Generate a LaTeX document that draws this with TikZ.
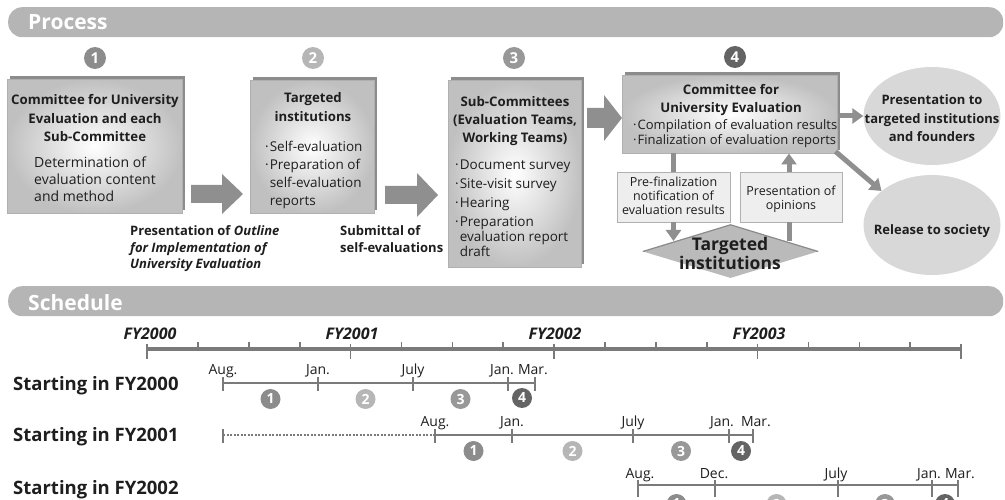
\documentclass[tikz,border=0pt]{standalone}
\usepackage{fontspec}
\setmainfont{Open Sans}
\usetikzlibrary{arrows.meta,shapes.geometric,shadows}
\definecolor{barg}{HTML}{B5B5B5}
\definecolor{arrg}{HTML}{8F8F8F}
\definecolor{shadg}{HTML}{8C8C8C}
\definecolor{boxout}{HTML}{C0C0C0}
\definecolor{boxedge}{HTML}{B0B0B0}
\definecolor{ellg}{HTML}{D8D8D8}
\definecolor{smallg}{HTML}{EEEEEE}
\definecolor{smalledge}{HTML}{B0B0B0}
\definecolor{diamg}{HTML}{BABABA}
\definecolor{diamedge}{HTML}{8A8A8A}
\definecolor{axisg}{HTML}{7A7A7A}
\definecolor{cone}{HTML}{8C8C8C}
\definecolor{ctwo}{HTML}{B6B6B6}
\definecolor{cthree}{HTML}{989898}
\definecolor{cfour}{HTML}{646464}
\definecolor{txt}{HTML}{1E1E1E}
\newcommand{\fsz}[2]{\fontsize{#1}{#2}\selectfont}
\newcommand{\tbl}[2]{\begin{tabular}[t]{@{}#1@{}}#2\end{tabular}}
\newcommand{\bl}{·\kern1pt}
\newcommand{\bh}{\hphantom{\bl}}
\newcommand{\blk}[5]{\fill[arrg] (#1) ++(0,-#5) -- ++(#2,0) -- ++(0,#5-#4) -- ++(#3,#4) -- ++(-#3,#4) -- ++(0,#5-#4) -- ++(-#2,0) -- cycle;}
\begin{document}
\begin{tikzpicture}[x=1pt,y=-1pt, every node/.style={text=txt},
 hdr/.style={fill=barg, rounded corners=14pt, anchor=north west, inner sep=0, minimum width=995pt, minimum height=30pt},
 hdrtxt/.style={anchor=base west, inner sep=0, text=white, font=\fsz{21}{24}\bfseries},
 numc/.style={circle, inner sep=0, minimum size=20pt, text=white, font=\fsz{14}{14}\bfseries},
 topnum/.style={numc, minimum size=22pt, font=\fsz{15}{15}\bfseries},
 mbox/.style={rectangle, anchor=north west, inner sep=0, inner color=white, outer color=boxout, draw=boxedge, line width=0.5pt, drop shadow={shadow xshift=3pt, shadow yshift=3pt, opacity=1, fill=shadg}},
 sbox/.style={rectangle, inner sep=0, fill=smallg, draw=smalledge, line width=0.8pt},
 txtb/.style={anchor=base, inner sep=0},
 conn/.style={draw=arrg, line width=5pt},
 conna/.style={conn, -{Triangle[length=11pt,width=15pt]}},
 axisl/.style={draw=axisg, line width=3.5pt},
 rowl/.style={draw=axisg, line width=2pt},
 tk/.style={draw=axisg, line width=1.6pt},
 mon/.style={anchor=base, inner sep=0, font=\fsz{14}{14}},
 fy/.style={anchor=base, inner sep=0, font=\fsz{16}{16}\bfseries\itshape},
 rowlab/.style={anchor=base west, inner sep=0, font=\fsz{18.5}{18}\bfseries}]
\useasboundingbox (0,0) rectangle (1005,500);
% headers
\node[hdr] (hproc) at (8,7) {};
\node[hdrtxt] (tproc) at (28,30) {Process};
\node[hdr] (hsch) at (8,286) {};
\node[hdrtxt] (tsch) at (28,310) {Schedule};
% step numbers
\node[topnum, fill=cone] (n1) at (95,58) {1};
\node[topnum, fill=ctwo] (n2) at (313,58) {2};
\node[topnum, fill=cthree] (n3) at (514,58) {3};
\node[topnum, fill=cfour] (n4) at (735,57) {4};
% box 1
\node[mbox, minimum width=175pt, minimum height=134pt] (b1) at (7,79) {};
\node[txtb, font=\fsz{13.2}{18.5}\bfseries] (b1t) at (95,105) {\tbl{c}{Committee for University\\Evaluation and each\\Sub-Committee}};
\node[txtb, font=\fsz{14}{17}] (b1d) at (95,168) {\tbl{l}{Determination of\\evaluation content\\and method}};
% box 2
\node[mbox, minimum width=124pt, minimum height=133pt] (b2) at (250,80) {};
\node[txtb, font=\fsz{13.2}{19}\bfseries] (b2t) at (313,103) {\tbl{c}{Targeted\\institutions}};
\node[txtb, anchor=base west, font=\fsz{13.5}{17.7}] (b2d) at (265,152) {\tbl{l}{\bl Self-evaluation\\\bl Preparation of\\\bh self-evaluation\\\bh reports}};
% box 3
\node[mbox, minimum width=133pt, minimum height=187pt] (b3) at (448,80) {};
\node[txtb, font=\fsz{13.2}{18}\bfseries] (b3t) at (515,107) {\tbl{c}{Sub-Committees\\(Evaluation Teams,\\Working Teams)}};
\node[txtb, anchor=base west, font=\fsz{13.5}{15}] (b3d) at (455,170) {\tbl{l}{\bl Document survey\\[4pt]\bl Site-visit survey\\[4pt]\bl Hearing\\[4pt]\bl Preparation\\\bh evaluation report\\\bh draft}};
% box 4
\node[mbox, minimum width=215pt, minimum height=78pt] (b4) at (622,75) {};
\node[txtb, font=\fsz{13.2}{18}\bfseries] (b4t) at (731,95) {\tbl{c}{Committee for\\University Evaluation}};
\node[txtb, anchor=base west, font=\fsz{13}{15}] (b4d) at (633,130) {\tbl{l}{\bl Compilation of evaluation results\\\bl Finalization of evaluation reports}};
% block arrows
\coordinate (a1) at (191,194);
\coordinate (a2) at (385,195);
\coordinate (a3) at (587,118);
\blk{a1}{31}{21}{20}{9}
\blk{a2}{32}{21}{22}{9}
\blk{a3}{17}{18}{23}{10}
% labels under arrows
\node[txtb, anchor=base west, font=\fsz{13}{16.5}\bfseries] (l1) at (130,236) {\tbl{l}{Presentation of \textit{Outline}\\\textit{for Implementation of}\\\textit{University Evaluation}}};
\node[txtb, anchor=base west, font=\fsz{13}{16.5}\bfseries] (l2) at (340,236) {\tbl{l}{Submittal of\\self-evaluations}};
% ellipses
\node[ellipse, fill=ellg, minimum width=137pt, minimum height=98pt, inner sep=0] (e1) at (932,116) {};
\node[txtb, font=\fsz{13}{18.5}\bfseries] (e1t) at (932,105) {\tbl{c}{Presentation to\\targeted institutions\\and founders}};
\node[ellipse, fill=ellg, minimum width=137pt, minimum height=100pt, inner sep=0] (e2) at (932,225) {};
\node[txtb, font=\fsz{13}{18.5}\bfseries] (e2t) at (932,235) {Release to society};
% small boxes
\node[sbox, minimum width=113pt, minimum height=50pt] (sA) at (673.5,197) {};
\node[txtb, font=\fsz{12.5}{14}] (sAt) at (673.5,187) {\tbl{c}{Pre-finalization\\notification of\\evaluation results}};
\node[sbox, minimum width=102pt, minimum height=50pt] (sB) at (791,197) {};
\node[txtb, font=\fsz{12.5}{14}] (sBt) at (791,196) {\tbl{c}{Presentation of\\opinions}};
% diamond
\node[diamond, fill=diamg, minimum width=175pt, minimum height=53pt, inner sep=0] (tg) at (730.5,251.5) {};
\draw[diamedge, line width=1.2pt, line join=round] (tg.west) -- (tg.north) -- (tg.east);
\node[txtb, font=\fsz{17.5}{18}\bfseries] (tgt) at (730,251) {\tbl{c}{Targeted\\institutions}};
% connectors
\draw[conna] (b4.east |- e1.west) -- (e1.west);
\draw[conna] ([xshift=-2pt,yshift=2pt]b4.south east) -- (e2.146);
\coordinate (tgA) at (674,241);
\coordinate (tgB) at (789,241);
\draw[conn] (b4.south -| sA.north) -- (sA.north);
\draw[conna] (sA.south) -- (sA.south |- tgA);
\draw[conn] (tgB) -- (sB.south -| tgB);
\draw[conna] (sB.north -| tgB) -- (b4.south -| tgB);
% schedule axis
\coordinate (ax0) at (147,349);
\coordinate (ax4) at (961,349);
\draw[axisl] (ax0) -- (ax4);
\foreach \k in {0,...,4} \draw[tk] ({147+203.5*\k},344) -- ++(0,15);
\foreach \k in {0,...,3} \foreach \q in {1,2,3} \draw[tk] ({147+203.5*\k+50.9*\q},342) -- ++(0,7);
\node[fy] (fy0) at (150,339) {FY2000};
\node[fy] (fy1) at (352,339) {FY2001};
\node[fy] (fy2) at (555,339) {FY2002};
\node[fy] (fy3) at (759,339) {FY2003};
% row 1
\node[rowlab] (rl1) at (13,390) {Starting in FY2000};
\coordinate (p1a) at (223,383);
\coordinate (p1e) at (535,383);
\draw[rowl] (p1a) -- (p1e);
\foreach \x in {223,318,413,508,535} \draw[tk] (\x,377) -- ++(0,14);
\node[mon] (m11) at (223,374) {Aug.};
\node[mon] (m12) at (318,374) {Jan.};
\node[mon] (m13) at (413,374) {July};
\node[mon] (m14) at (502,374) {Jan.};
\node[mon] (m15) at (533,374) {Mar.};
\node[numc, fill=cone] (c11) at (270.5,399) {1};
\node[numc, fill=ctwo] (c12) at (365.5,399) {2};
\node[numc, fill=cthree] (c13) at (460.5,399) {3};
\node[numc, fill=cfour] (c14) at (522,398) {4};
% row 2
\node[rowlab] (rl2) at (13,441) {Starting in FY2001};
\coordinate (p2s) at (223,435);
\coordinate (p2a) at (435,435);
\coordinate (p2e) at (753,435);
\draw[axisg, line width=1.2pt, dash pattern=on 2pt off 1.5pt] (p2s) -- (p2a);
\draw[tk] (223,429) -- ++(0,14);
\draw[rowl] (p2a) -- (p2e);
\foreach \x in {435,512,633,729,753} \draw[tk] (\x,429) -- ++(0,14);
\node[mon] (m21) at (435,426) {Aug.};
\node[mon] (m22) at (512,426) {Jan.};
\node[mon] (m23) at (633,426) {July};
\node[mon] (m24) at (722,426) {Jan.};
\node[mon] (m25) at (756,426) {Mar.};
\node[numc, fill=cone] (c21) at (473.5,451) {1};
\node[numc, fill=ctwo] (c22) at (572.5,451) {2};
\node[numc, fill=cthree] (c23) at (681,451) {3};
\node[numc, fill=cfour] (c24) at (741,451) {4};
% row 3
\node[rowlab] (rl3) at (13,494) {Starting in FY2002};
\coordinate (p3a) at (638,485);
\coordinate (p3e) at (958,485);
\draw[rowl] (p3a) -- (p3e);
\foreach \x in {638,715,838,932,958} \draw[tk] (\x,480) -- ++(0,17);
\node[mon] (m31) at (640,478) {Aug.};
\node[mon] (m32) at (714,478) {Dec.};
\node[mon] (m33) at (836,478) {July};
\node[mon] (m34) at (929,478) {Jan.};
\node[mon] (m35) at (960,478) {Mar.};
\node[numc, fill=cone] (c31) at (676.5,504) {1};
\node[numc, fill=ctwo] (c32) at (776.5,504) {2};
\node[numc, fill=cthree] (c33) at (885,504) {3};
\node[numc, fill=cfour] (c34) at (945,504) {4};
\end{tikzpicture}
\end{document}
